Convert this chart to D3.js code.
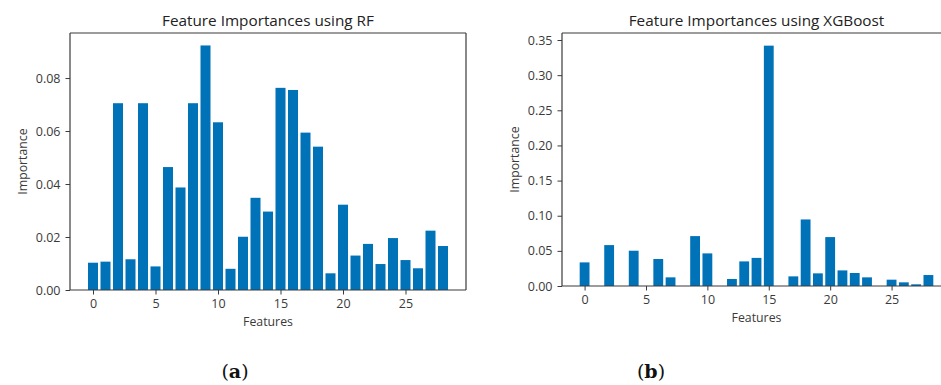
<!DOCTYPE html>
<html>
<head>
<meta charset="utf-8">
<script src="https://cdn.jsdelivr.net/npm/d3@7"></script>
<style>
  body { margin: 0; background: #fff; }
  svg { display: block; font-family: "Open Sans", sans-serif; }
</style>
</head>
<body>
<div id="chart"></div>
<script>
// feature indices 0..28
const features = d3.range(0, 29);

const rfImportance = [
  0.0103, 0.0107, 0.0705, 0.0116, 0.0705, 0.0089, 0.0464, 0.0387, 0.0705, 0.0923,
  0.0633, 0.0080, 0.0201, 0.0348, 0.0296, 0.0763, 0.0755, 0.0594, 0.0541, 0.0063,
  0.0322, 0.0130, 0.0174, 0.0098, 0.0196, 0.0113, 0.0082, 0.0224, 0.0166
];

const xgbImportance = [
  0.0336, 0.0, 0.0582, 0.0, 0.0502, 0.0, 0.0384, 0.0123, 0.0, 0.0710,
  0.0464, 0.0, 0.0100, 0.0350, 0.0400, 0.3420, 0.0, 0.0137, 0.0947, 0.0180,
  0.0696, 0.0222, 0.0185, 0.0123, 0.0, 0.0090, 0.0052, 0.0024, 0.0156
];

const xTicks = [0, 5, 10, 15, 20, 25];
const rfYTicks = [0.00, 0.02, 0.04, 0.06, 0.08];
const xgbYTicks = [0.00, 0.05, 0.10, 0.15, 0.20, 0.25, 0.30, 0.35];

const W = 941, H = 385;
const barColor = "#0072b8";
const inkColor = "#3a3a3a";

const svg = d3.select("#chart").append("svg")
  .attr("width", W)
  .attr("height", H);

function drawPanel(opts) {
  const { left, right, top, bottom, yMax, values, yTicks, title, caption, captionX, showRight } = opts;

  const x = d3.scaleLinear()
    .domain([-1.84, 29.84])
    .range([left, right]);

  const y = d3.scaleLinear()
    .domain([0, yMax])
    .range([bottom, top]);

  const g = svg.append("g");

  // bars
  g.selectAll("rect.bar")
    .data(features)
    .join("rect")
    .attr("class", "bar")
    .attr("x", d => x(d - 0.4))
    .attr("width", d => x(d + 0.4) - x(d - 0.4))
    .attr("y", d => y(values[d]))
    .attr("height", d => y(0) - y(values[d]))
    .attr("fill", barColor);

  // axes
  const xAxis = g.append("g")
    .attr("transform", `translate(0,${bottom})`)
    .call(d3.axisBottom(x).tickValues(xTicks).tickSize(4.5).tickPadding(4.5).tickFormat(d3.format("d")));

  const yAxis = g.append("g")
    .attr("transform", `translate(${left},0)`)
    .call(d3.axisLeft(y).tickValues(yTicks).tickSize(4.5).tickPadding(5).tickFormat(d3.format(".2f")));

  [xAxis, yAxis].forEach(a => {
    a.select(".domain").remove();
    a.selectAll(".tick line").attr("stroke", inkColor).attr("stroke-width", 1);
    a.selectAll(".tick text")
      .attr("fill", inkColor)
      .style("font-size", "12.5px")
      .style("font-family", "'Open Sans', sans-serif");
  });

  // frame (spines)
  const spine = (x1, y1, x2, y2) => g.append("line")
    .attr("x1", x1).attr("y1", y1).attr("x2", x2).attr("y2", y2)
    .attr("stroke", inkColor).attr("stroke-width", 1.2);

  spine(left, top, left, bottom);
  spine(left, bottom, Math.min(right, W), bottom);
  spine(left, top, Math.min(right, W), top);
  if (showRight) spine(right, top, right, bottom);

  // title
  g.append("text")
    .attr("x", (left + right) / 2)
    .attr("y", top - 7)
    .attr("text-anchor", "middle")
    .attr("fill", "#222")
    .style("font-size", "15.3px")
    .text(title);

  // axis labels
  g.append("text")
    .attr("x", (left + right) / 2)
    .attr("y", bottom + 36)
    .attr("text-anchor", "middle")
    .attr("fill", inkColor)
    .style("font-size", "12.3px")
    .text("Features");

  g.append("text")
    .attr("transform", `translate(${left - 43.5},${(top + bottom) / 2}) rotate(-90)`)
    .attr("text-anchor", "middle")
    .attr("fill", inkColor)
    .style("font-size", "12.3px")
    .text("Importance");

  // panel caption
  const cap = g.append("text")
    .attr("x", captionX)
    .attr("y", 378)
    .attr("text-anchor", "middle")
    .attr("fill", "#111")
    .style("font-family", "'DejaVu Serif', 'Liberation Serif', serif")
    .style("font-size", "19px");
  cap.append("tspan").text("(");
  cap.append("tspan").style("font-weight", "700").text(caption);
  cap.append("tspan").text(")");
}

drawPanel({
  left: 70, right: 466, top: 33, bottom: 290,
  yMax: 0.097, values: rfImportance, yTicks: rfYTicks,
  title: "Feature Importances using RF", caption: "a", captionX: 235, showRight: true
});

drawPanel({
  left: 562, right: 951, top: 33, bottom: 286,
  yMax: 0.36, values: xgbImportance, yTicks: xgbYTicks,
  title: "Feature Importances using XGBoost", caption: "b", captionX: 651, showRight: false
});
</script>
</body>
</html>
